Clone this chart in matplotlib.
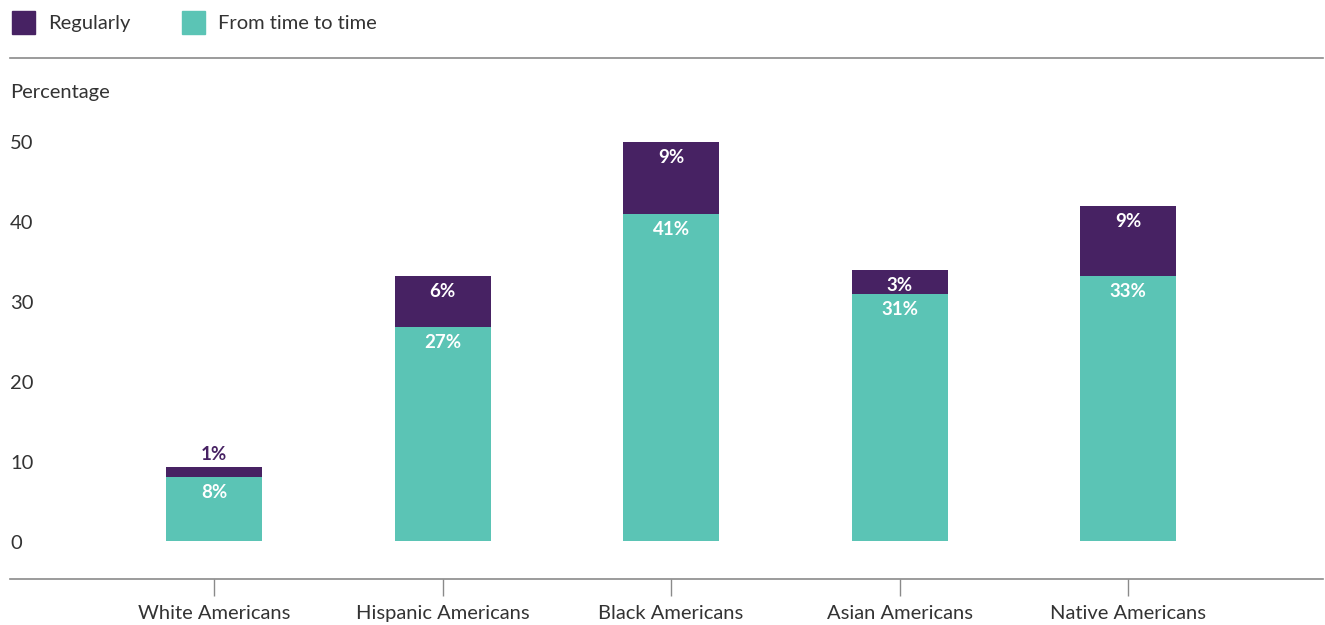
import matplotlib.pyplot as plt

plt.rcParams['font.family'] = ['Lato', 'DejaVu Sans']

groups = ['White Americans', 'Hispanic Americans', 'Black Americans',
          'Asian Americans', 'Native Americans']
from_time = [8.0, 26.8, 40.9, 30.9, 33.1]
regularly = [1.25, 6.3, 9.0, 3.0, 8.8]
from_time_labels = ['8%', '27%', '41%', '31%', '33%']
regularly_labels = ['1%', '6%', '9%', '3%', '9%']
y_ticks = [0, 10, 20, 30, 40, 50]

purple = '#472263'
teal = '#5bc4b5'
text_col = '#333333'
line_col = '#8a8a8a'

W, H = 1325, 625
fig = plt.figure(figsize=(W / 100, H / 100), dpi=100)
# axes spans from the top rule (y=58px) to the baseline (y=579px)
ax = fig.add_axes([10 / W, 1 - 579 / H, 1313 / W, (579 - 58) / H])

x = list(range(len(groups)))
ax.bar(x, from_time, width=0.42, color=teal)
ax.bar(x, regularly, width=0.42, bottom=from_time, color=purple)

ax.set_xlim(-0.893, 4.853)
ax.set_ylim(-4.75, 60.375)

lab_size = 13.5
for i in x:
    ax.annotate(from_time_labels[i], (i, from_time[i]), xytext=(0, -5),
                textcoords='offset points', ha='center', va='top',
                color='white', fontsize=lab_size, fontweight='bold')
    top = from_time[i] + regularly[i]
    if regularly[i] < 2:
        ax.annotate(regularly_labels[i], (i, top), xytext=(0, 3),
                    textcoords='offset points', ha='center', va='bottom',
                    color=purple, fontsize=lab_size, fontweight='bold')
    else:
        ax.annotate(regularly_labels[i], (i, top), xytext=(0, -5),
                    textcoords='offset points', ha='center', va='top',
                    color='white', fontsize=lab_size, fontweight='bold')

# y tick labels drawn inside the axes on the left
txt_size = 14.5
for t in y_ticks:
    ax.annotate(str(t), (0, t), xycoords=ax.get_yaxis_transform(),
                xytext=(0, -1.5), textcoords='offset points',
                ha='left', va='center', fontsize=txt_size, color=text_col)
ax.annotate('Percentage', (0, 56.25), xycoords=ax.get_yaxis_transform(),
            xytext=(0, -1), textcoords='offset points',
            ha='left', va='center', fontsize=txt_size, color=text_col)
ax.set_yticks([])

ax.set_xticks(x)
ax.set_xticklabels(groups, fontsize=txt_size, color=text_col)
ax.tick_params(axis='x', length=12, width=1, color=line_col, pad=7)

for side in ['left', 'right']:
    ax.spines[side].set_visible(False)
for side in ['top', 'bottom']:
    ax.spines[side].set_color(line_col)
    ax.spines[side].set_linewidth(1.2)

# legend
fig.patches.append(plt.Rectangle((12 / W, 1 - 34 / H), 23 / W, 23 / H,
                                 transform=fig.transFigure, color=purple))
fig.text(48 / W, 1 - 23.5 / H, 'Regularly', ha='left', va='center',
         fontsize=txt_size, color=text_col)
fig.patches.append(plt.Rectangle((182 / W, 1 - 34 / H), 23 / W, 23 / H,
                                 transform=fig.transFigure, color=teal))
fig.text(218 / W, 1 - 23.5 / H, 'From time to time', ha='left', va='center',
         fontsize=txt_size, color=text_col)

fig.savefig('out.png', dpi=100)
